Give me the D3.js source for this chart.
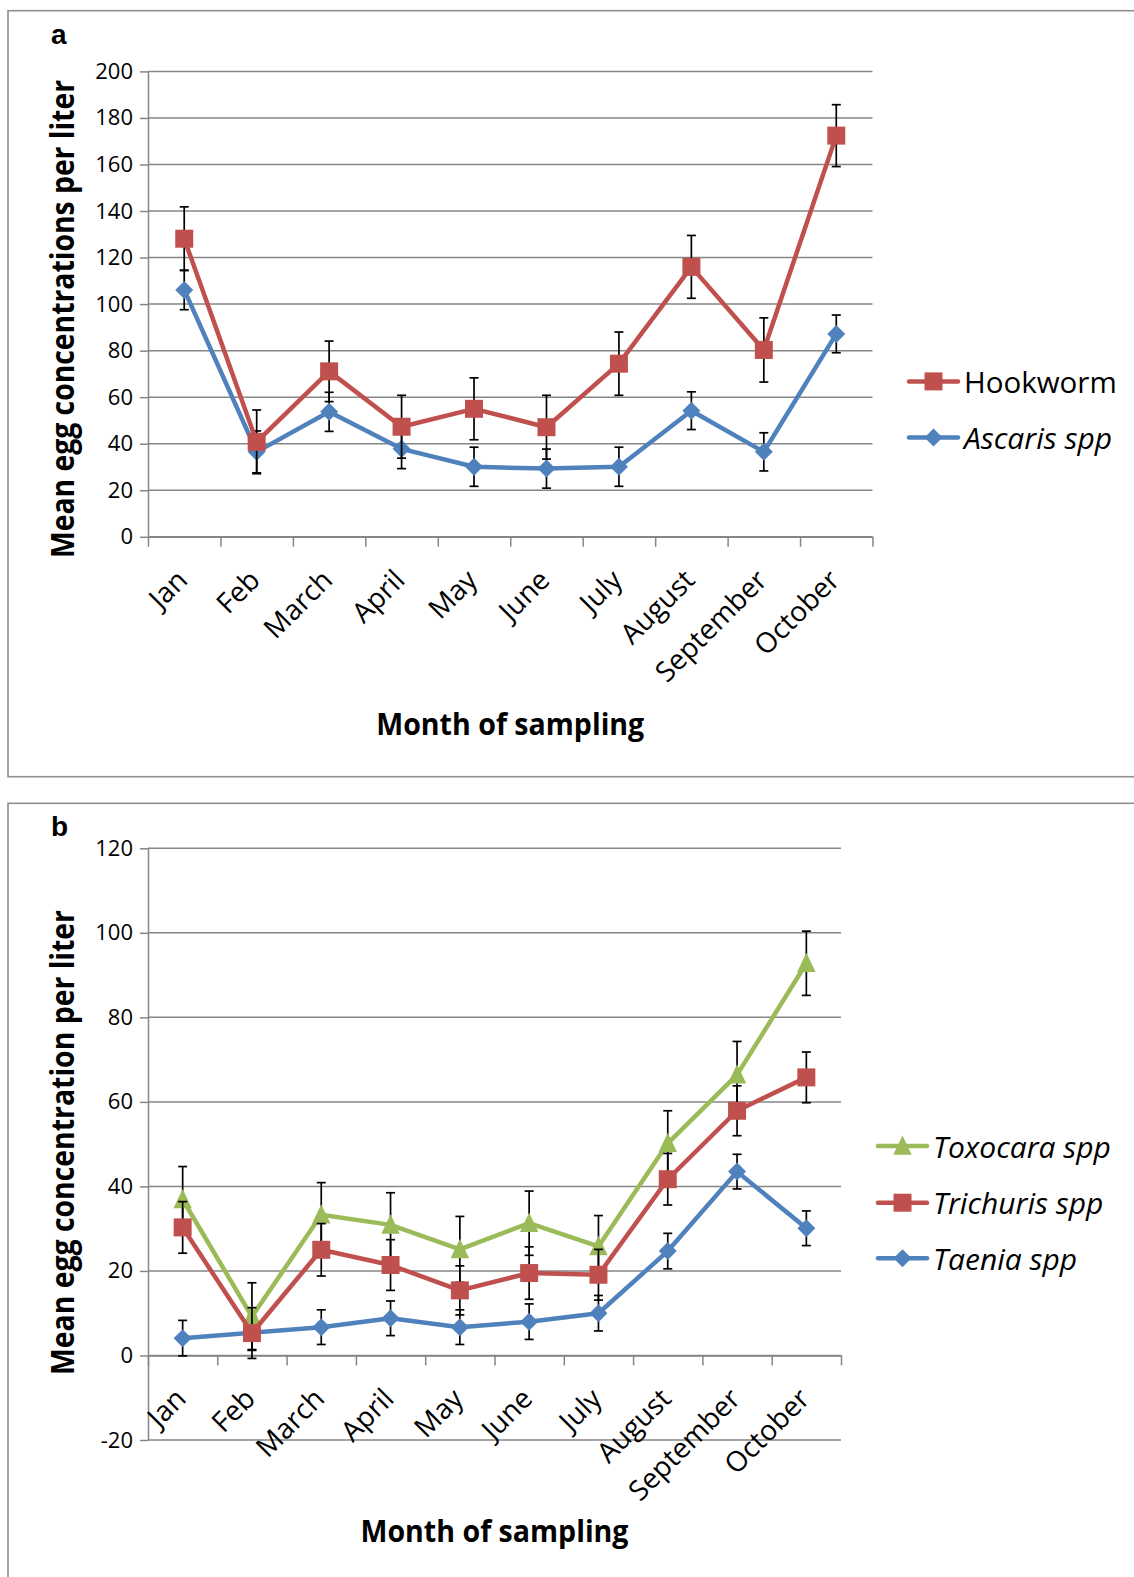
<!DOCTYPE html>
<html>
<head>
<meta charset="UTF-8">
<script src="https://d3js.org/d3.v7.min.js"></script>
<style>
  body { margin: 0; background: #fff; }
  svg { font-family: "Open Sans", sans-serif; }
  .tick text { fill: #000; }
</style>
</head>
<body>
<svg id="chart" width="1134" height="1577"></svg>
<script>
// months on the x axis (both panels)
const months = ["Jan", "Feb", "March", "April", "May", "June", "July", "August", "September", "October"];

// panel a
const hookworm    = [128.1, 40.8, 71.1, 47.3, 55.0, 47.1, 74.4, 116.0, 80.3, 172.4];
const hookwormErr = [13.7, 13.7, 13.0, 13.5, 13.3, 13.7, 13.6, 13.5, 13.8, 13.3];
const ascaris     = [106.1, 36.5, 53.7, 37.8, 30.1, 29.3, 30.1, 54.2, 36.5, 87.2];
const ascarisErr  = [8.5, 9.0, 8.4, 8.5, 8.4, 8.4, 8.4, 8.1, 8.2, 8.1];
const ticksA = [0, 20, 40, 60, 80, 100, 120, 140, 160, 180, 200];

// panel b
const toxocara     = [36.9, 9.2, 33.3, 30.9, 25.1, 31.3, 25.8, 50.2, 66.4, 92.8];
const toxocaraErr  = [7.8, 8.0, 7.6, 7.6, 7.8, 7.6, 7.3, 7.7, 7.9, 7.6];
const trichuris    = [30.3, 5.3, 25.0, 21.4, 15.4, 19.5, 19.1, 41.7, 57.9, 65.8];
const trichurisErr = [6.1, 6.0, 6.2, 6.0, 5.8, 6.2, 6.0, 6.1, 5.9, 6.0];
const taenia       = [4.1, 5.4, 6.7, 8.8, 6.7, 8.0, 10.0, 24.7, 43.5, 30.1];
const taeniaErr    = [4.2, 4.0, 4.1, 4.1, 4.1, 4.2, 4.2, 4.2, 4.1, 4.1];
const ticksB = [-20, 0, 20, 40, 60, 80, 100, 120];

const RED = "#C0504D", BLUE = "#4F81BD", GREEN = "#9BBB59", GRID = "#868686";

const svg = d3.select("#chart");

// marker shapes
const diamond = { draw(c, s) { const r = Math.sqrt(s) / 2; c.moveTo(0, -r); c.lineTo(r, 0); c.lineTo(0, r); c.lineTo(-r, 0); c.closePath(); } };
const triangle = { draw(c, s) { const r = Math.sqrt(s) / 2; c.moveTo(0, -r * 1.15); c.lineTo(r, r * 0.95); c.lineTo(-r, r * 0.95); c.closePath(); } };
const shapes = { square: d3.symbol(d3.symbolSquare, 324), diamond: d3.symbol(diamond, 324), triangle: d3.symbol(triangle, 340) };

function drawPanel(p) {
  const g = svg.append("g");

  g.append("rect")
    .attr("x", 8).attr("y", p.boxTop)
    .attr("width", 1140).attr("height", p.boxHeight)
    .attr("fill", "none").attr("stroke", "#8f8f8f").attr("stroke-width", 1.6);

  g.append("text")
    .attr("x", 51).attr("y", p.boxTop + 33)
    .style("font-family", "Liberation Sans, Arial, sans-serif")
    .style("font-weight", "bold").style("font-size", "28px")
    .text(p.letter);

  const x = d3.scaleBand().domain(months).range([p.left, p.right]);
  const xi = d3.scaleLinear().domain([0, months.length]).range([p.left, p.right]);
  const y = d3.scaleLinear().domain(d3.extent(p.ticks)).range([p.bottom, p.top]);
  const cx = m => x(m) + x.bandwidth() / 2;

  // gridlines
  g.append("g").selectAll("line").data(p.ticks).join("line")
    .attr("x1", p.left).attr("x2", p.right)
    .attr("y1", d => y(d)).attr("y2", d => y(d))
    .attr("stroke", GRID).attr("stroke-width", 1.5);

  // y axis
  const ya = g.append("g")
    .attr("transform", `translate(${p.left},0)`)
    .call(d3.axisLeft(y).tickValues(p.ticks).tickSize(8).tickSizeOuter(0).tickPadding(7).tickFormat(d => String(d)));
  ya.selectAll("path, line").attr("stroke", GRID).attr("stroke-width", 1.5);
  ya.selectAll("text").style("font-size", "22px").style("font-family", "Open Sans");

  // x axis at zero, ticks between categories
  const xa = g.append("g")
    .attr("transform", `translate(0,${y(0)})`)
    .call(d3.axisBottom(xi).tickValues(d3.range(months.length + 1)).tickSize(10).tickSizeOuter(0).tickFormat(""));
  xa.selectAll("path, line").attr("stroke", GRID).attr("stroke-width", 1.5);

  g.append("g").selectAll("text").data(months).join("text")
    .attr("transform", d => `translate(${cx(d) + 5},${y(0) + 45}) rotate(-45)`)
    .attr("text-anchor", "end")
    .style("font-size", "28px")
    .text(d => d);

  // axis titles
  g.append("text")
    .attr("transform", `translate(74,${p.titleY}) rotate(-90)`)
    .attr("text-anchor", "middle")
    .attr("textLength", p.titleLen).attr("lengthAdjust", "spacingAndGlyphs")
    .style("font-weight", "bold").style("font-size", "33px")
    .text(p.yTitle);

  g.append("text")
    .attr("x", (p.left + p.right) / 2).attr("y", p.xTitleY)
    .attr("text-anchor", "middle")
    .attr("textLength", 268).attr("lengthAdjust", "spacingAndGlyphs")
    .style("font-weight", "bold").style("font-size", "30px")
    .text("Month of sampling");

  // series
  p.series.forEach(s => {
    const pts = months.map((m, i) => ({ m, v: s.values[i], e: s.err[i] }));
    const eb = g.append("g").attr("stroke", "#000").attr("stroke-width", 1.7);
    eb.selectAll(".v").data(pts).join("line")
      .attr("x1", d => cx(d.m)).attr("x2", d => cx(d.m))
      .attr("y1", d => y(d.v - d.e)).attr("y2", d => y(d.v + d.e));
    eb.selectAll(".c").data(pts.flatMap(d => [d.v - d.e, d.v + d.e].map(v => ({ m: d.m, v })))).join("line")
      .attr("x1", d => cx(d.m) - 4.5).attr("x2", d => cx(d.m) + 4.5)
      .attr("y1", d => y(d.v)).attr("y2", d => y(d.v));

    g.append("path").datum(pts)
      .attr("fill", "none").attr("stroke", s.color).attr("stroke-width", 4.5)
      .attr("stroke-linejoin", "round")
      .attr("d", d3.line().x(d => cx(d.m)).y(d => y(d.v)));

    g.append("g").selectAll("path").data(pts).join("path")
      .attr("transform", d => `translate(${cx(d.m)},${y(d.v)})`)
      .attr("d", shapes[s.shape]()).attr("fill", s.color);
  });

  // legend
  p.legend.forEach((s, i) => {
    const ly = p.legendY[i];
    g.append("line")
      .attr("x1", p.legendX).attr("x2", p.legendX + 49)
      .attr("y1", ly).attr("y2", ly)
      .attr("stroke", s.color).attr("stroke-width", 4.5).attr("stroke-linecap", "round");
    g.append("path")
      .attr("transform", `translate(${p.legendX + 24.5},${ly})`)
      .attr("d", shapes[s.shape]()).attr("fill", s.color);
    g.append("text")
      .attr("x", p.legendX + 55).attr("y", ly)
      .attr("dominant-baseline", "central")
      .style("font-size", s.italic ? "30px" : "29.5px")
      .style("font-style", s.italic ? "italic" : "normal")
      .text(s.name);
  });
}

const hookS  = { name: "Hookworm", values: hookworm, err: hookwormErr, color: RED, shape: "square", italic: false };
const ascS   = { name: "Ascaris spp", values: ascaris, err: ascarisErr, color: BLUE, shape: "diamond", italic: true };
const toxS   = { name: "Toxocara spp", values: toxocara, err: toxocaraErr, color: GREEN, shape: "triangle", italic: true };
const triS   = { name: "Trichuris spp", values: trichuris, err: trichurisErr, color: RED, shape: "square", italic: true };
const taeS   = { name: "Taenia spp", values: taenia, err: taeniaErr, color: BLUE, shape: "diamond", italic: true };

drawPanel({
  letter: "a", boxTop: 10.7, boxHeight: 766,
  left: 148, right: 872.5, top: 71.4, bottom: 536.8, ticks: ticksA,
  yTitle: "Mean egg concentrations per liter", titleY: 319, titleLen: 478, xTitleY: 735,
  series: [ascS, hookS], legend: [hookS, ascS],
  legendX: 909, legendY: [381.4, 437.5]
});

drawPanel({
  letter: "b", boxTop: 803.3, boxHeight: 800,
  left: 148, right: 841, top: 848.3, bottom: 1440, ticks: ticksB,
  yTitle: "Mean egg concentration per liter", titleY: 1142.5, titleLen: 465, xTitleY: 1542,
  series: [taeS, toxS, triS], legend: [toxS, triS, taeS],
  legendX: 878, legendY: [1146, 1202.7, 1258.3]
});
</script>
</body>
</html>
